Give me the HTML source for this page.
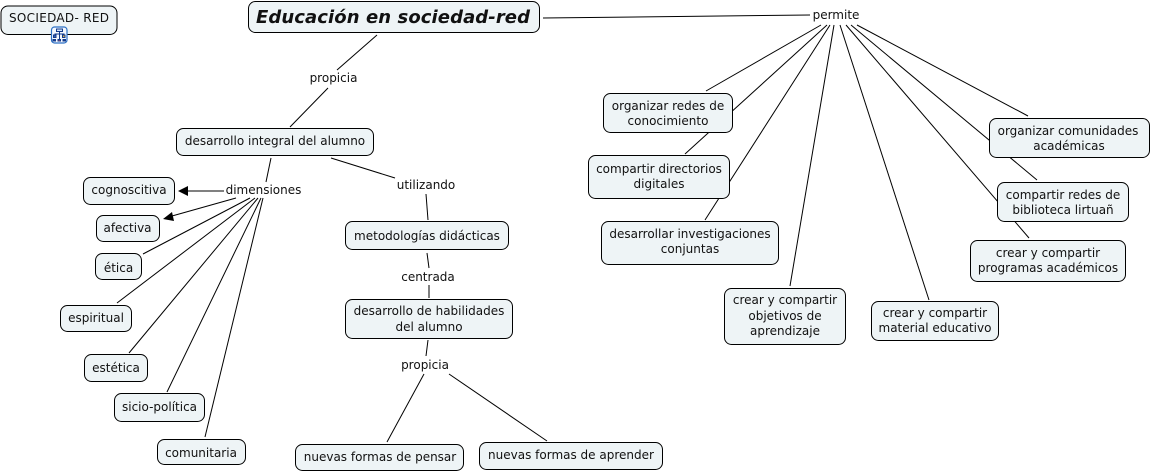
<!DOCTYPE html>
<html><head><meta charset="utf-8"><style>
html,body{margin:0;padding:0;background:#fff}
svg{display:block}
text{font-family:"DejaVu Sans","Liberation Sans",sans-serif;font-size:12px;fill:#111;text-anchor:middle}
rect{fill:#eef4f6;stroke:#000;stroke-width:1}
line{stroke:#000;stroke-width:1}
</style></head><body>
<svg width="1151" height="473" viewBox="0 0 1151 473" xmlns="http://www.w3.org/2000/svg">
<line x1="543" y1="18" x2="810" y2="15"/>
<line x1="377" y1="35" x2="337" y2="70"/>
<line x1="328" y1="88" x2="290" y2="127"/>
<line x1="271" y1="158" x2="266" y2="182"/>
<line x1="331" y1="158" x2="395" y2="178"/>
<line x1="426" y1="194" x2="428" y2="220"/>
<line x1="427" y1="253" x2="429" y2="268"/>
<line x1="429" y1="285" x2="429" y2="298"/>
<line x1="428" y1="340" x2="426" y2="356"/>
<line x1="424" y1="374" x2="387" y2="442"/>
<line x1="449" y1="374" x2="547" y2="441"/>
<line x1="224" y1="191" x2="186" y2="191"/>
<polygon points="178,191 188,186 188,196" fill="#000"/>
<line x1="236" y1="198" x2="172" y2="216"/>
<polygon points="163,219 172,212 174,221" fill="#000"/>
<line x1="250" y1="198" x2="143" y2="254"/>
<line x1="255" y1="198" x2="117" y2="303"/>
<line x1="258" y1="198" x2="129" y2="353"/>
<line x1="261" y1="198" x2="167" y2="392"/>
<line x1="263" y1="198" x2="205" y2="437"/>
<line x1="821" y1="25" x2="706" y2="91"/>
<line x1="827" y1="25" x2="685" y2="154"/>
<line x1="830" y1="25" x2="705" y2="220"/>
<line x1="834" y1="25" x2="790" y2="286"/>
<line x1="840" y1="25" x2="929" y2="300"/>
<line x1="846" y1="25" x2="1029" y2="238"/>
<line x1="851" y1="25" x2="1037" y2="180"/>
<line x1="857" y1="25" x2="1028" y2="116"/>
<rect x="1" y="6" width="116" height="28.500" rx="7"/>
<text x="59" y="22" textLength="100">SOCIEDAD- RED</text>
<rect x="51.500" y="27" width="15.500" height="16" rx="3" style="fill:#f4f8fe;stroke:#2b6fc4;stroke-width:1.200"/>
<rect x="56.500" y="29" width="6" height="2.500" style="fill:#cfe0f5;stroke:#123a8c"/>
<line x1="59.500" y1="31" x2="59.500" y2="39" style="stroke:#123a8c"/>
<line x1="54.500" y1="34" x2="64.500" y2="34" style="stroke:#123a8c"/>
<rect x="53.500" y="35" width="2.500" height="2.500" style="fill:#3a5fb0;stroke:#123a8c"/>
<rect x="62.500" y="35" width="2.500" height="2.500" style="fill:#e4b040;stroke:#123a8c"/>
<rect x="53" y="39.500" width="2.500" height="1.500" style="fill:#123a8c;stroke:#123a8c"/>
<rect x="58" y="39.500" width="2.500" height="1.500" style="fill:#c44;stroke:#123a8c"/>
<rect x="63" y="39.500" width="2.500" height="1.500" style="fill:#123a8c;stroke:#123a8c"/>
<rect x="248.500" y="1.500" width="291" height="31" rx="7"/>
<text x="393" y="23" textLength="274" style="font-size:18px;font-weight:bold;font-style:italic">Educación en sociedad-red</text>
<rect x="176.500" y="128.500" width="197" height="27" rx="7"/>
<text x="275" y="145">desarrollo integral del alumno</text>
<rect x="83.500" y="177.500" width="91" height="27" rx="7"/>
<text x="129" y="194">cognoscitiva</text>
<rect x="96.500" y="215.500" width="63" height="26" rx="7"/>
<text x="127.500" y="232">afectiva</text>
<rect x="95.500" y="253.500" width="46" height="26" rx="7"/>
<text x="118.500" y="272">ética</text>
<rect x="60.500" y="305.500" width="71" height="26" rx="7"/>
<text x="96" y="322">espiritual</text>
<rect x="84.500" y="354.500" width="63" height="27" rx="7"/>
<text x="116" y="372">estética</text>
<rect x="114.500" y="393.500" width="90" height="28" rx="7"/>
<text x="159.500" y="411">sicio-política</text>
<rect x="157.500" y="439.500" width="88" height="25" rx="7"/>
<text x="201" y="457">comunitaria</text>
<rect x="345.500" y="221.500" width="163" height="28" rx="7"/>
<text x="427" y="240">metodologías didácticas</text>
<rect x="345.500" y="299.500" width="167" height="39" rx="7"/>
<text x="429" y="315">desarrollo de habilidades</text>
<text x="429" y="331">del alumno</text>
<rect x="295.500" y="444.500" width="168" height="26" rx="7"/>
<text x="380" y="461">nuevas formas de pensar</text>
<rect x="479.500" y="442.500" width="183" height="27" rx="7"/>
<text x="571" y="459">nuevas formas de aprender</text>
<rect x="603.500" y="93.500" width="129" height="39" rx="7"/>
<text x="668" y="110">organizar redes de</text>
<text x="668" y="125">conocimiento</text>
<rect x="588.500" y="155.500" width="141" height="43" rx="7"/>
<text x="659" y="173">compartir directorios</text>
<text x="659" y="188">digitales</text>
<rect x="601.500" y="221.500" width="177" height="43" rx="7"/>
<text x="690" y="238">desarrollar investigaciones</text>
<text x="690" y="253">conjuntas</text>
<rect x="724.500" y="288.500" width="121" height="56" rx="7"/>
<text x="785" y="304">crear y compartir</text>
<text x="785" y="320">objetivos de</text>
<text x="785" y="335">aprendizaje</text>
<rect x="871.500" y="301.500" width="127" height="39" rx="7"/>
<text x="935" y="317">crear y compartir</text>
<text x="935" y="332">material educativo</text>
<rect x="989.500" y="118.500" width="160" height="39" rx="7"/>
<text x="1068" y="135">organizar comunidades</text>
<text x="1069" y="150">académicas</text>
<rect x="997.500" y="182.500" width="131" height="39" rx="7"/>
<text x="1063" y="199">compartir redes de</text>
<text x="1063" y="214">biblioteca lirtuañ</text>
<rect x="970.500" y="240.500" width="155" height="41" rx="7"/>
<text x="1048" y="257">crear y compartir</text>
<text x="1048" y="272">programas académicos</text>
<text x="333.500" y="82">propicia</text>
<text x="263.500" y="194">dimensiones</text>
<text x="426" y="189">utilizando</text>
<text x="428" y="281">centrada</text>
<text x="425" y="369">propicia</text>
<text x="836" y="19">permite</text>
</svg>
</body></html>
